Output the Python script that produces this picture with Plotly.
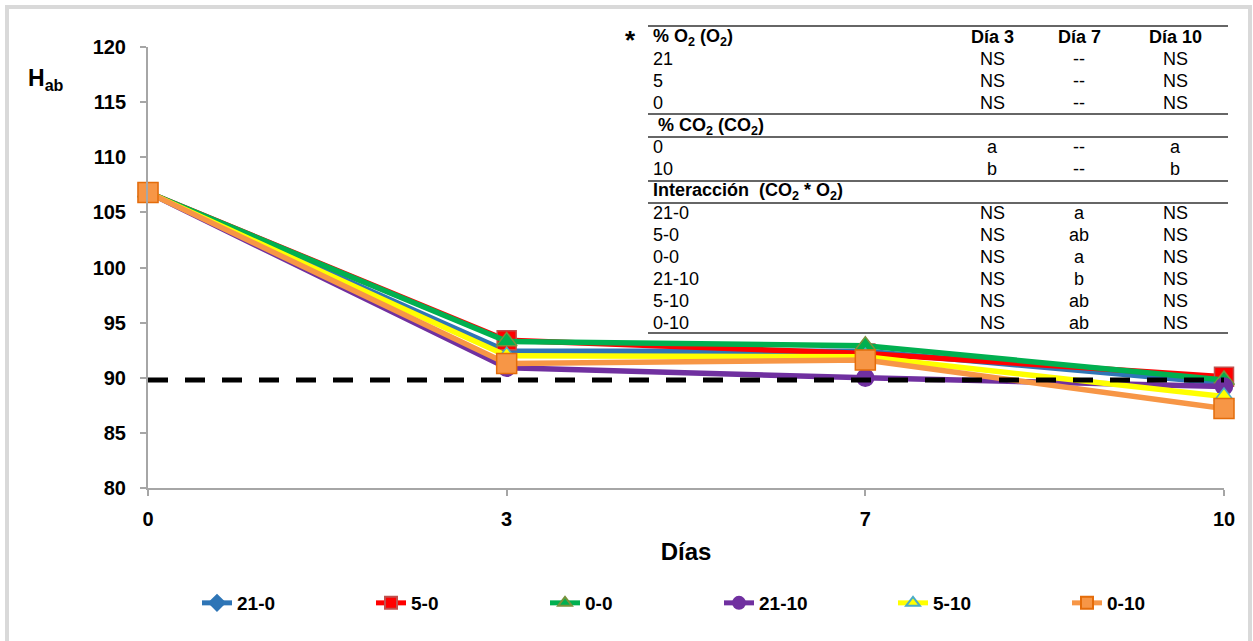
import plotly.graph_objects as go

# ---------------- data ----------------
days = ["0", "3", "7", "10"]

s_21_0 = [106.8, 92.4, 92.4, 89.5]
s_5_0 = [106.8, 93.4, 92.2, 90.1]
s_0_0 = [106.8, 93.3, 92.9, 89.8]
s_21_10 = [106.8, 90.9, 90.0, 89.2]
s_5_10 = [106.8, 92.0, 91.9, 88.3]
s_0_10 = [106.8, 91.3, 91.6, 87.2]

ref_value = 89.8

table_header = ["% O<sub>2</sub> (O<sub>2</sub>)", "Día 3", "Día 7", "Día 10"]
o2_labels = ["21", "5", "0"]
o2_d3 = ["NS", "NS", "NS"]
o2_d7 = ["--", "--", "--"]
o2_d10 = ["NS", "NS", "NS"]
co2_title = "% CO<sub>2</sub> (CO<sub>2</sub>)"
co2_labels = ["0", "10"]
co2_d3 = ["a", "b"]
co2_d7 = ["--", "--"]
co2_d10 = ["a", "b"]
int_title = "Interacción  (CO<sub>2</sub> * O<sub>2</sub>)"
int_labels = ["21-0", "5-0", "0-0", "21-10", "5-10", "0-10"]
int_d3 = ["NS", "NS", "NS", "NS", "NS", "NS"]
int_d7 = ["a", "ab", "a", "b", "ab", "ab"]
int_d10 = ["NS", "NS", "NS", "NS", "NS", "NS"]

# ---------------- figure ----------------
W, H = 1253, 641
L, R, T, B = 148, 29, 47, 153
PW, PH = W - L - R, H - T - B


def px(x):
    return (x - L) / PW


def py(y):
    return (H - B - y) / PH


FONT = "Liberation Sans, Arial, sans-serif"

series = [
    ("21-0", s_21_0, "#2E75B6", "diamond", 12, "#2E75B6"),
    ("5-0", s_5_0, "#FF0000", "square", 19, "#C0504D"),
    ("0-0", s_0_0, "#00B050", "triangle-up", 18, "#77933C"),
    ("21-10", s_21_10, "#7030A0", "circle", 17, "#7030A0"),
    ("5-10", s_5_10, "#FFFF00", "triangle-up", 17, "#4BACC6"),
    ("0-10", s_0_10, "#F79646", "square", 20, "#E46C0A"),
]

fig = go.Figure()
for name, vals, col, sym, size, edge in series:
    fig.add_trace(go.Scatter(
        x=days, y=vals, name=name, mode="lines+markers",
        line=dict(color=col, width=5.5),
        marker=dict(symbol=sym, size=size, color=col,
                    line=dict(color=edge, width=1.5)),
        cliponaxis=False,
    ))

# reference dashed line
fig.add_shape(type="line", xref="paper", yref="y", x0=0, x1=1,
              y0=ref_value, y1=ref_value,
              line=dict(color="black", width=5, dash="20px,17px"))

# outer frame
fig.add_shape(type="rect", xref="paper", yref="paper",
              x0=px(7), x1=px(1250), y0=py(7), y1=py(700),
              line=dict(color="#d9d9d9", width=4), layer="below")

annotations = []

# y title
annotations.append(dict(text="<b>H<sub>ab</sub></b>", x=px(26), y=py(80),
                        xref="paper", yref="paper", xanchor="left",
                        yanchor="middle", showarrow=False,
                        font=dict(family=FONT, size=23, color="black")))

# ---------- table ----------
col_label_x = 651
col_x = [992, 1079, 1175]
row_h = 22
tfont = dict(family=FONT, size=18, color="black")


def add_row(y, label, vals, bold=False):
    lab = f"<b>{label}</b>" if bold else label
    annotations.append(dict(text=lab, x=px(col_label_x), y=py(y),
                            xref="paper", yref="paper", xanchor="left",
                            yanchor="middle", showarrow=False, font=tfont))
    for cx, v in zip(col_x, vals):
        t = f"<b>{v}</b>" if bold else v
        annotations.append(dict(text=t, x=px(cx), y=py(y),
                                xref="paper", yref="paper", xanchor="center",
                                yanchor="middle", showarrow=False, font=tfont))


def hline(y):
    fig.add_shape(type="line", xref="paper", yref="paper",
                  x0=px(648), x1=px(1228), y0=py(y), y1=py(y),
                  line=dict(color="#333333", width=1.5))


annotations.append(dict(text="<b>*</b>", x=px(630), y=py(40),
                        xref="paper", yref="paper", xanchor="center",
                        yanchor="middle", showarrow=False,
                        font=dict(family=FONT, size=26, color="black")))

y0 = 37
hline(26)
add_row(y0, table_header[0], table_header[1:], bold=True)
for i, lab in enumerate(o2_labels):
    add_row(y0 + row_h * (i + 1), lab, [o2_d3[i], o2_d7[i], o2_d10[i]])
hline(114)
annotations.append(dict(text="<b> " + co2_title + "</b>", x=px(col_label_x),
                        y=py(126), xref="paper", yref="paper",
                        xanchor="left", yanchor="middle", showarrow=False,
                        font=tfont))
hline(137)
for i, lab in enumerate(co2_labels):
    add_row(147 + row_h * i, lab, [co2_d3[i], co2_d7[i], co2_d10[i]])
hline(181)
annotations.append(dict(text="<b>" + int_title + "</b>", x=px(col_label_x),
                        y=py(192), xref="paper", yref="paper",
                        xanchor="left", yanchor="middle", showarrow=False,
                        font=tfont))
hline(203)
for i, lab in enumerate(int_labels):
    add_row(213 + row_h * i, lab, [int_d3[i], int_d7[i], int_d10[i]])
hline(333)

fig.update_layout(
    width=W, height=H,
    margin=dict(l=L, r=R, t=T, b=B, pad=0, autoexpand=False),
    paper_bgcolor="white", plot_bgcolor="white",
    font=dict(family=FONT, color="black"),
    showlegend=True,
    legend=dict(orientation="h", x=px(197), y=py(603), xanchor="left",
                yanchor="middle", entrywidth=129, entrywidthmode="pixels",
                itemsizing="constant",
                font=dict(family=FONT, size=19, color="black", weight="bold"),
                bgcolor="rgba(0,0,0,0)"),
    xaxis=dict(type="category", range=[0, 3], showgrid=False, zeroline=False,
               showline=True, linecolor="#a6a6a6", linewidth=2,
               ticks="outside", ticklen=6, tickcolor="#a6a6a6", tickwidth=2,
               tickfont=dict(family=FONT, size=20, weight="bold"),
               ticklabelstandoff=6,
               title=dict(text="<b>Días</b>", standoff=14,
                          font=dict(family=FONT, size=24))),
    yaxis=dict(range=[80, 120], dtick=5, showgrid=False, zeroline=False,
               showline=True, linecolor="#a6a6a6", linewidth=2,
               ticks="outside", ticklen=6, tickcolor="#a6a6a6", tickwidth=2,
               tickfont=dict(family=FONT, size=20, weight="bold"),
               ticklabelstandoff=10),
    annotations=annotations,
)

fig.write_html("out.html")
